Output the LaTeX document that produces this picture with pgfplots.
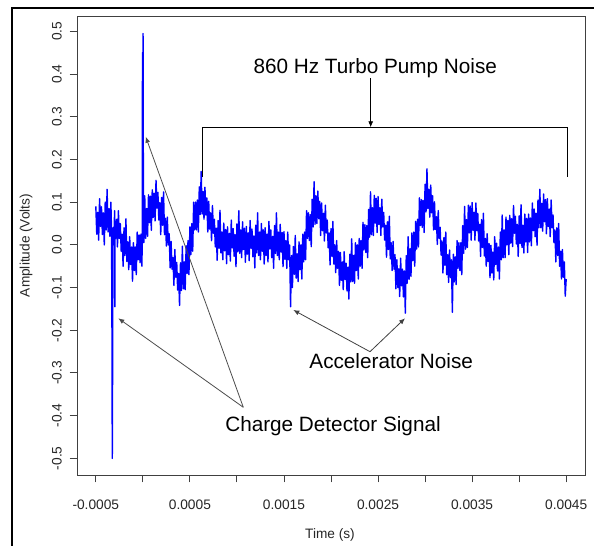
\documentclass[border=0pt]{standalone}
\usepackage{fontspec}
\setmainfont{Liberation Sans}
\usepackage{pgfplots}
\pgfplotsset{compat=1.18}
\usepackage{pgfplotstable}
\usetikzlibrary{arrows.meta}
% time in microseconds, amplitude in volts
\pgfplotstableread{
t v
-500 0.090
-490 0.025
-480 0.076
-470 0.011
-460 0.108
-450 0.043
-440 0.089
-430 0.024
-420 0.075
-410 0.000
-400 0.100
-390 0.035
-380 0.130
-370 0.030
-360 0.085
-350 0.020
-340 0.100
-333 0.035
-328 -0.220
-325 -0.500
-323 -0.400
-320 -0.150
-316 0.040
-310 0.000
-300 0.080
-298 -0.145
-295 0.050
-290 0.015
-280 0.060
-270 -0.005
-260 0.080
-250 0.015
-240 0.050
-230 -0.015
-220 0.025
-210 -0.050
-200 0.040
-190 -0.025
-180 0.061
-170 -0.039
-160 0.007
-150 -0.058
-140 0.019
-130 -0.046
-120 -0.005
-110 -0.085
-100 0.005
-90 -0.060
-80 -0.005
-70 -0.070
-60 0.030
-50 -0.035
-40 0.023
-30 -0.042
-20 0.025
-10 -0.050
-6 0.020
-4 0.450
-2 0.300
0 0.020
2 0.495
4 0.310
6 0.050
10 0.005
20 0.115
30 0.015
40 0.085
50 0.020
60 0.117
70 0.052
80 0.114
90 0.034
100 0.129
110 0.064
120 0.121
130 0.056
140 0.151
150 0.086
160 0.123
170 0.058
180 0.099
190 0.024
200 0.111
210 0.046
220 0.124
230 0.024
240 0.062
250 -0.003
260 0.065
270 0.000
280 0.026
290 -0.054
300 0.008
310 -0.057
320 -0.030
330 -0.095
340 -0.011
350 -0.076
360 -0.041
370 -0.106
380 -0.067
390 -0.142
400 -0.042
410 -0.107
420 -0.003
430 -0.103
440 -0.040
450 -0.105
460 -0.002
470 -0.067
480 0.010
490 -0.070
500 0.042
510 -0.023
520 0.050
530 -0.015
540 0.100
550 0.035
560 0.100
570 0.035
580 0.105
590 0.030
600 0.136
610 0.071
620 0.172
630 0.072
640 0.125
650 0.060
660 0.135
670 0.070
680 0.110
690 0.030
700 0.102
710 0.037
720 0.075
730 0.010
740 0.092
750 0.027
760 0.060
770 -0.005
780 0.039
790 -0.036
800 0.057
810 -0.008
820 0.081
830 -0.019
840 0.030
850 -0.035
860 0.051
870 -0.014
880 0.036
890 -0.044
900 0.042
910 -0.023
920 0.027
930 -0.038
940 0.058
950 -0.007
960 0.038
970 -0.027
980 0.024
990 -0.051
1000 0.049
1010 -0.016
1020 0.080
1030 -0.020
1040 0.035
1050 -0.030
1060 0.054
1070 -0.011
1080 0.039
1090 -0.041
1100 0.043
1110 -0.022
1120 0.028
1130 -0.037
1140 0.057
1150 -0.008
1160 0.037
1170 -0.028
1180 0.021
1190 -0.054
1200 0.046
1210 -0.019
1220 0.075
1230 -0.025
1240 0.030
1250 -0.035
1260 0.050
1270 -0.015
1280 0.035
1290 -0.045
1300 0.040
1310 -0.025
1320 0.025
1330 -0.040
1340 0.055
1350 -0.010
1360 0.035
1370 -0.030
1380 0.020
1390 -0.055
1400 0.045
1410 -0.020
1420 0.075
1430 -0.025
1440 0.030
1450 -0.035
1460 0.048
1470 -0.017
1480 0.029
1490 -0.051
1500 0.031
1510 -0.034
1520 0.010
1530 -0.055
1540 0.030
1550 -0.035
1560 0.000
1570 -0.145
1580 -0.025
1590 -0.100
1600 -0.004
1610 -0.069
1620 0.022
1630 -0.078
1640 -0.021
1650 -0.086
1660 0.007
1670 -0.058
1680 0.000
1690 -0.080
1700 0.025
1710 -0.040
1720 0.030
1730 -0.035
1740 0.080
1750 0.015
1760 0.075
1770 0.010
1780 0.071
1790 -0.004
1800 0.107
1810 0.042
1820 0.148
1830 0.048
1840 0.115
1850 0.050
1860 0.126
1870 0.061
1880 0.102
1890 0.022
1900 0.098
1910 0.033
1920 0.074
1930 0.009
1940 0.093
1950 0.028
1960 0.058
1970 -0.007
1980 0.028
1990 -0.047
2000 0.038
2010 -0.027
2020 0.055
2030 -0.045
2040 0.000
2050 -0.065
2060 0.010
2070 -0.055
2080 -0.015
2090 -0.095
2100 -0.018
2110 -0.083
2120 -0.040
2130 -0.105
2140 -0.016
2150 -0.081
2160 -0.043
2170 -0.108
2180 -0.052
2190 -0.127
2200 -0.022
2210 -0.087
2220 0.014
2230 -0.086
2240 -0.025
2250 -0.090
2260 0.005
2270 -0.060
2280 0.000
2290 -0.080
2300 0.015
2310 -0.050
2320 0.010
2330 -0.055
2340 0.053
2350 -0.012
2360 0.047
2370 -0.018
2380 0.045
2390 -0.030
2400 0.083
2410 0.018
2420 0.124
2430 0.024
2440 0.087
2450 0.022
2460 0.116
2470 0.051
2480 0.109
2490 0.029
2500 0.113
2510 0.048
2520 0.087
2530 0.022
2540 0.107
2550 0.042
2560 0.076
2570 0.011
2580 0.046
2590 -0.029
2600 0.054
2610 -0.011
2620 0.067
2630 -0.033
2640 0.005
2650 -0.060
2660 0.008
2670 -0.057
2680 -0.023
2690 -0.103
2700 -0.035
2710 -0.100
2720 -0.056
2730 -0.121
2740 -0.031
2750 -0.096
2760 -0.057
2770 -0.122
2780 -0.061
2790 -0.160
2800 -0.025
2810 -0.090
2820 0.019
2830 -0.081
2840 -0.009
2850 -0.074
2860 0.028
2870 -0.037
2880 0.030
2890 -0.050
2900 0.055
2910 -0.010
2920 0.060
2930 -0.005
2940 0.110
2950 0.045
2960 0.106
2970 0.041
2980 0.104
2990 0.029
3000 0.142
3010 0.077
3020 0.178
3030 0.085
3040 0.130
3050 0.065
3060 0.140
3070 0.075
3080 0.115
3090 0.035
3100 0.101
3110 0.036
3120 0.066
3130 0.001
3140 0.080
3150 0.015
3160 0.041
3170 -0.024
3180 0.009
3190 -0.066
3200 0.017
3210 -0.048
3220 0.030
3230 -0.070
3240 -0.023
3250 -0.088
3260 -0.012
3270 -0.077
3280 -0.035
3290 -0.158
3300 -0.022
3310 -0.087
3320 -0.028
3330 -0.093
3340 0.010
3350 -0.055
3360 0.005
3370 -0.060
3380 0.005
3390 -0.070
3400 0.045
3410 -0.020
3420 0.090
3430 -0.010
3440 0.059
3450 -0.006
3460 0.093
3470 0.028
3480 0.091
3490 0.011
3500 0.099
3510 0.034
3520 0.076
3530 0.011
3540 0.098
3550 0.033
3560 0.074
3570 0.009
3580 0.048
3590 -0.027
3600 0.059
3610 -0.006
3620 0.074
3630 -0.026
3640 0.015
3650 -0.050
3660 0.026
3670 -0.039
3680 0.003
3690 -0.077
3700 -0.001
3710 -0.066
3720 -0.017
3730 -0.082
3740 0.019
3750 -0.046
3760 0.004
3770 -0.061
3780 -0.005
3790 -0.080
3800 0.030
3810 -0.035
3820 0.070
3830 -0.030
3840 0.035
3850 -0.030
3860 0.065
3870 0.000
3880 0.057
3890 -0.023
3900 0.069
3910 0.004
3920 0.061
3930 -0.004
3940 0.092
3950 0.027
3960 0.067
3970 0.002
3980 0.048
3990 -0.027
4000 0.068
4010 0.003
4020 0.094
4030 -0.006
4040 0.046
4050 -0.019
4060 0.072
4070 0.007
4080 0.062
4090 -0.018
4100 0.072
4110 0.007
4120 0.063
4130 -0.002
4140 0.098
4150 0.033
4160 0.084
4170 0.019
4180 0.074
4190 -0.001
4200 0.105
4210 0.040
4220 0.130
4230 0.040
4240 0.097
4250 0.032
4260 0.119
4270 0.054
4280 0.106
4290 0.026
4300 0.108
4310 0.043
4320 0.084
4330 0.019
4340 0.105
4350 0.040
4360 0.070
4370 0.005
4380 0.035
4390 -0.040
4400 0.040
4410 -0.025
4420 0.050
4430 -0.050
4440 -0.015
4450 -0.080
4460 -0.011
4470 -0.076
4480 -0.040
4490 -0.120
4500 -0.080
}\sig
\begin{document}
\begin{tikzpicture}[x=1bp,y=1bp]
\useasboundingbox (0,0) rectangle (594,546);
\begin{axis}[
  at={(77bp,71bp)}, anchor=south west,
  scale only axis, width=508bp, height=459bp,
  xmin=-700, xmax=4700, ymin=-0.539, ymax=0.536,
  axis line style={black!75, line width=0.9bp},
  every tick/.style={black!75, line width=0.9bp},
  tick align=outside, tick pos=left,
  major tick length=7.5bp,
  xtick={-500,0,500,1000,1500,2000,2500,3000,3500,4000,4500},
  xticklabels={-0.0005,,0.0005,,0.0015,,0.0025,,0.0035,,0.0045},
  ytick={-0.5,-0.4,-0.3,-0.2,-0.1,0,0.1,0.2,0.3,0.4,0.5},
  yticklabels={-0.5,-0.4,-0.3,-0.2,-0.1,0.0,0.1,0.2,0.3,0.4,0.5},
  ticklabel style={font=\fontsize{13.8}{16}\selectfont, text=black!85, inner sep=0pt},
  xticklabel style={anchor=north},
  yticklabel style={rotate=90, anchor=south},
  xticklabel shift=17bp,
  yticklabel shift=7.5bp,
]
\addplot[blue, line width=1.4bp, line join=round, no marks] table[x=t,y=v] {\sig};
\end{axis}
% outer frame (top and left edges)
\draw[black, line width=2.3bp] (12,-5) -- (12,538.2) -- (600,538.2);
% axis titles
\node[font=\fontsize{13.7}{16}\selectfont, text=black!85] at (330,11.5) {Time (s)};
\node[rotate=90, font=\fontsize{13.7}{16}\selectfont, text=black!85] at (26,300.5) {Amplitude (Volts)};
% annotations
\node[anchor=base, font=\fontsize{20.8}{24}\selectfont] at (375.3,472) {860 Hz Turbo Pump Noise};
\draw[black, line width=0.8bp, -{Latex[length=6bp,width=5bp]}] (370.7,467.5) -- (370.7,418.7);
\draw[black, line width=0.8bp] (202.3,369.3) -- (202.3,418.7) -- (567.3,418.7) -- (567.3,369.3);
\node[anchor=base, font=\fontsize{20.8}{24}\selectfont] at (391.2,177) {Accelerator Noise};
\draw[black!75, line width=0.8bp, -{Latex[length=6bp,width=5bp]}] (370,194.3) -- (293.3,236);
\draw[black!75, line width=0.8bp, -{Latex[length=6bp,width=5bp]}] (370,194.3) -- (405,227.7);
\node[anchor=base, font=\fontsize{20.8}{24}\selectfont] at (333,114) {Charge Detector Signal};
\draw[black!70, line width=0.8bp, -{Latex[length=6bp,width=5bp]}] (243.3,138.7) -- (118.3,227.7);
\draw[black!70, line width=0.8bp, -{Latex[length=6bp,width=5bp]}] (243.3,138.7) -- (145.7,409.3);
\end{tikzpicture}
\end{document}
